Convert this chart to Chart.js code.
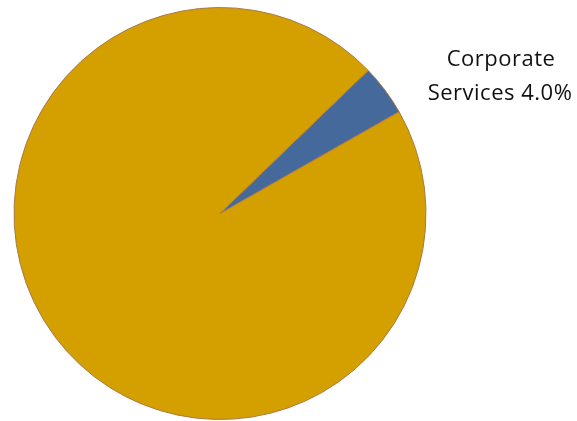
<!DOCTYPE html>
<html>
<head>
<meta charset="utf-8">
<script src="https://cdn.jsdelivr.net/npm/chart.js@4"></script>
<style>
  html, body { margin: 0; padding: 0; background: #fff; }
  #wrap { width: 577px; height: 421px; position: relative; }
</style>
</head>
<body>
<div id="wrap"><canvas id="myChart"></canvas></div>
<script>
// data
const categories = ['Corporate Services', 'Other'];
const shares = [4.0, 96.0];
const sliceColors = ['#46699b', '#d4a000'];
const labelLines = ['Corporate', 'Services 4.0%'];

// label for the small slice, drawn outside the pie
const sliceLabel = {
  id: 'sliceLabel',
  afterDraw(chart) {
    const c = chart.ctx;
    c.save();
    c.font = '22px "Open Sans", "Liberation Sans", sans-serif';
    c.letterSpacing = '0.5px';
    c.fillStyle = '#111';
    c.textAlign = 'center';
    c.textBaseline = 'alphabetic';
    c.fillText(labelLines[0], 501, 66);
    c.fillText(labelLines[1], 500, 100);
    c.restore();
  }
};

new Chart(document.getElementById('myChart'), {
  type: 'pie',
  data: {
    labels: categories,
    datasets: [{
      data: shares,
      backgroundColor: sliceColors,
      borderColor: '#a9794a',
      borderWidth: 1
    }]
  },
  options: {
    responsive: true,
    maintainAspectRatio: false,
    animation: false,
    rotation: 46,
    layout: { padding: { left: 13, right: 150, top: 7, bottom: 1 } },
    plugins: {
      legend: { display: false },
      tooltip: { enabled: false }
    }
  },
  plugins: [sliceLabel]
});
</script>
</body>
</html>
